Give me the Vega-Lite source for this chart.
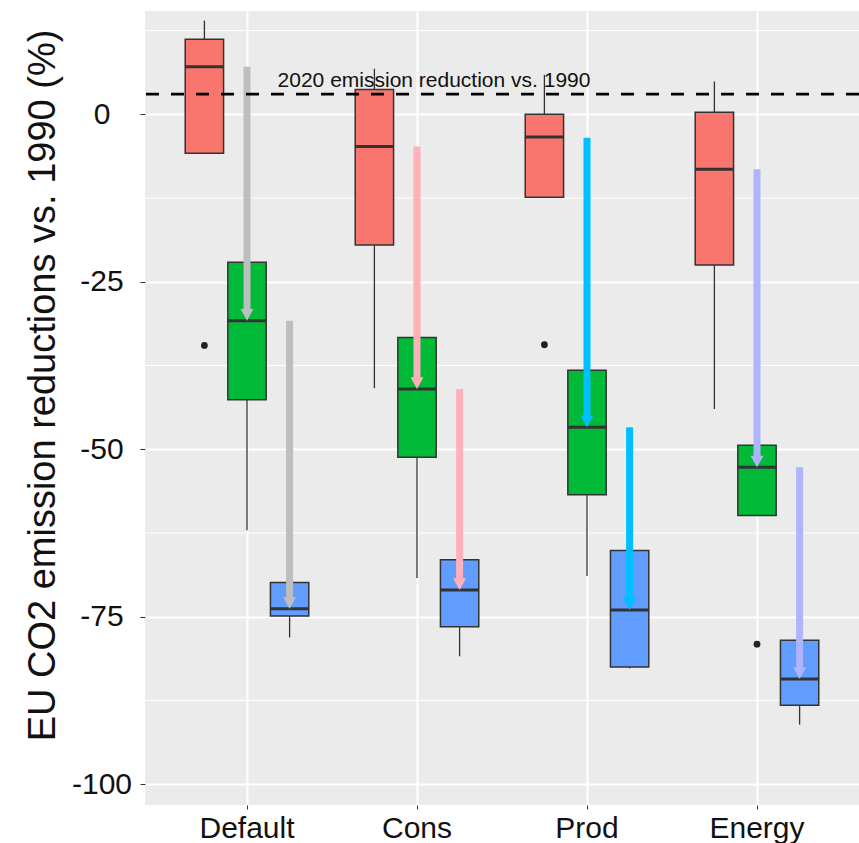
{
  "$schema": "https://vega.github.io/schema/vega-lite/v6.json",
  "width": 714,
  "height": 794,
  "autosize": {"type": "none"},
  "padding": {"left": 145, "top": 11, "right": 0, "bottom": 38},
  "background": "white",
  "config": {
    "font": "Liberation Sans",
    "view": {"fill": "#EBEBEB", "stroke": null}
  },
  "datasets": {
    "boxes": [
      {"scenario": "Default", "group": "1", "lower": -5.8, "q1": -5.8, "median": 7.1, "q3": 11.2, "upper": 14.0},
      {"scenario": "Default", "group": "2", "lower": -62.1, "q1": -42.6, "median": -30.8, "q3": -22.1, "upper": -22.1},
      {"scenario": "Default", "group": "3", "lower": -78.1, "q1": -74.9, "median": -73.8, "q3": -69.9, "upper": -69.9},
      {"scenario": "Cons", "group": "1", "lower": -40.9, "q1": -19.5, "median": -4.8, "q3": 3.7, "upper": 6.8},
      {"scenario": "Cons", "group": "2", "lower": -69.2, "q1": -51.2, "median": -41.0, "q3": -33.3, "upper": -33.3},
      {"scenario": "Cons", "group": "3", "lower": -80.9, "q1": -76.5, "median": -71.0, "q3": -66.5, "upper": -66.5},
      {"scenario": "Prod", "group": "1", "lower": -12.4, "q1": -12.4, "median": -3.4, "q3": 0.0, "upper": 5.9},
      {"scenario": "Prod", "group": "2", "lower": -68.9, "q1": -56.8, "median": -46.7, "q3": -38.2, "upper": -38.2},
      {"scenario": "Prod", "group": "3", "lower": -82.7, "q1": -82.5, "median": -74.0, "q3": -65.1, "upper": -65.1},
      {"scenario": "Energy", "group": "1", "lower": -44.0, "q1": -22.5, "median": -8.2, "q3": 0.3, "upper": 4.9},
      {"scenario": "Energy", "group": "2", "lower": -59.9, "q1": -59.9, "median": -52.7, "q3": -49.4, "upper": -49.4},
      {"scenario": "Energy", "group": "3", "lower": -91.1, "q1": -88.2, "median": -84.3, "q3": -78.5, "upper": -78.5}
    ],
    "outliers": [
      {"scenario": "Default", "group": "1", "value": -34.5},
      {"scenario": "Prod", "group": "1", "value": -34.4},
      {"scenario": "Energy", "group": "2", "value": -79.1}
    ],
    "arrows": [
      {"scenario": "Default", "group": "2", "from": 7.1, "to": -30.8},
      {"scenario": "Default", "group": "3", "from": -30.8, "to": -73.8},
      {"scenario": "Cons", "group": "2", "from": -4.8, "to": -41.0},
      {"scenario": "Cons", "group": "3", "from": -41.0, "to": -71.0},
      {"scenario": "Prod", "group": "2", "from": -3.5, "to": -46.7},
      {"scenario": "Prod", "group": "3", "from": -46.7, "to": -74.0},
      {"scenario": "Energy", "group": "2", "from": -8.2, "to": -52.7},
      {"scenario": "Energy", "group": "3", "from": -52.7, "to": -84.3}
    ],
    "minor": [{"v": 12.5}, {"v": -12.5}, {"v": -37.5}, {"v": -62.5}, {"v": -87.5}],
    "ref": [{"scenario": "Cons", "y": 4.1, "line": 3.0, "label": "2020 emission reduction vs. 1990"}]
  },
  "layer": [
    {
      "data": {"name": "minor"},
      "mark": {"type": "rule", "color": "white", "strokeWidth": 1},
      "encoding": {
        "y": {
          "field": "v", "type": "quantitative",
          "scale": {"domain": [-103.1, 15.42], "nice": false, "zero": false},
          "axis": {
            "title": "EU CO2 emission reductions vs. 1990 (%)",
            "values": [0, -25, -50, -75, -100],
            "labelExpr": "'' + datum.value",
            "labelFontSize": 30,
            "labelColor": "#111111",
            "labelAlign": "center",
            "labelBaseline": "middle",
            "labelPadding": 38.5,
            "tickSize": 5,
            "tickColor": "#333333",
            "tickWidth": 1,
            "domain": false,
            "grid": true,
            "gridColor": "white",
            "gridWidth": 2,
            "titleFontSize": 38,
            "titleFontWeight": "normal",
            "titleColor": "#111111",
            "titleX": -91,
            "titleY": 374,
            "titleAlign": "center",
            "titleBaseline": "alphabetic",
            "titleAngle": -90
          }
        }
      }
    },
    {
      "data": {"name": "boxes"},
      "mark": {"type": "rule", "color": "#333333", "strokeWidth": 1.3},
      "encoding": {
        "x": {
          "field": "scenario", "type": "nominal",
          "scale": {"domain": ["Default", "Cons", "Prod", "Energy"], "paddingInner": 0, "paddingOuter": 0.1},
          "axis": {
            "title": null,
            "labelAngle": 0,
            "labelFontSize": 30,
            "labelColor": "#111111",
            "labelPadding": 4,
            "tickSize": 4,
            "tickColor": "#333333",
            "domain": false,
            "grid": true,
            "gridColor": "white",
            "gridWidth": 2,
            "bandPosition": 0.5
          }
        },
        "xOffset": {"field": "group", "type": "nominal", "scale": {"domain": ["1", "2", "3"], "paddingInner": 0.1, "paddingOuter": 0.545}},
        "y": {"field": "lower", "type": "quantitative"},
        "y2": {"field": "upper"}
      }
    },
    {
      "data": {"name": "boxes"},
      "mark": {"type": "bar", "stroke": "#333333", "strokeWidth": 1.5},
      "encoding": {
        "x": {"field": "scenario", "type": "nominal"},
        "xOffset": {"field": "group", "type": "nominal"},
        "y": {"field": "q1", "type": "quantitative"},
        "y2": {"field": "q3"},
        "fill": {"field": "group", "type": "nominal", "scale": {"domain": ["1", "2", "3"], "range": ["#F8766D", "#00BA38", "#619CFF"]}, "legend": null}
      }
    },
    {
      "data": {"name": "boxes"},
      "mark": {"type": "tick", "orient": "horizontal", "color": "#333333", "size": 39, "thickness": 3, "opacity": 1},
      "encoding": {
        "x": {"field": "scenario", "type": "nominal"},
        "xOffset": {"field": "group", "type": "nominal"},
        "y": {"field": "median", "type": "quantitative"}
      }
    },
    {
      "data": {"name": "outliers"},
      "mark": {"type": "point", "filled": true, "color": "#222222", "size": 46, "opacity": 1},
      "encoding": {
        "x": {"field": "scenario", "type": "nominal"},
        "xOffset": {"field": "group", "type": "nominal"},
        "y": {"field": "value", "type": "quantitative"}
      }
    },
    {
      "data": {"name": "arrows"},
      "mark": {"type": "rule", "strokeWidth": 7, "y2Offset": -9},
      "encoding": {
        "x": {"field": "scenario", "type": "nominal"},
        "xOffset": {"field": "group", "type": "nominal"},
        "y": {"field": "from", "type": "quantitative"},
        "y2": {"field": "to"},
        "color": {"field": "scenario", "type": "nominal", "scale": {"domain": ["Default", "Cons", "Prod", "Energy"], "range": ["#BEBEBE", "#FFB0B8", "#00BFFF", "#AFB4FF"]}, "legend": null}
      }
    },
    {
      "data": {"name": "arrows"},
      "mark": {"type": "point", "filled": true, "opacity": 1, "size": 169, "strokeWidth": 0, "shape": "M -1 -1.8 L 1 -1.8 L 0 0 Z"},
      "encoding": {
        "x": {"field": "scenario", "type": "nominal"},
        "xOffset": {"field": "group", "type": "nominal"},
        "y": {"field": "to", "type": "quantitative"},
        "color": {"field": "scenario", "type": "nominal", "legend": null}
      }
    },
    {
      "data": {"name": "ref"},
      "mark": {"type": "rule", "color": "black", "strokeWidth": 2.8, "strokeDash": [13, 12]},
      "encoding": {
        "y": {"field": "line", "type": "quantitative"}
      }
    },
    {
      "data": {"name": "ref"},
      "mark": {"type": "text", "fontSize": 21, "color": "#111111", "align": "center", "baseline": "alphabetic", "dx": 17},
      "encoding": {
        "x": {"field": "scenario", "type": "nominal"},
        "y": {"field": "y", "type": "quantitative"},
        "text": {"field": "label"}
      }
    }
  ]
}
